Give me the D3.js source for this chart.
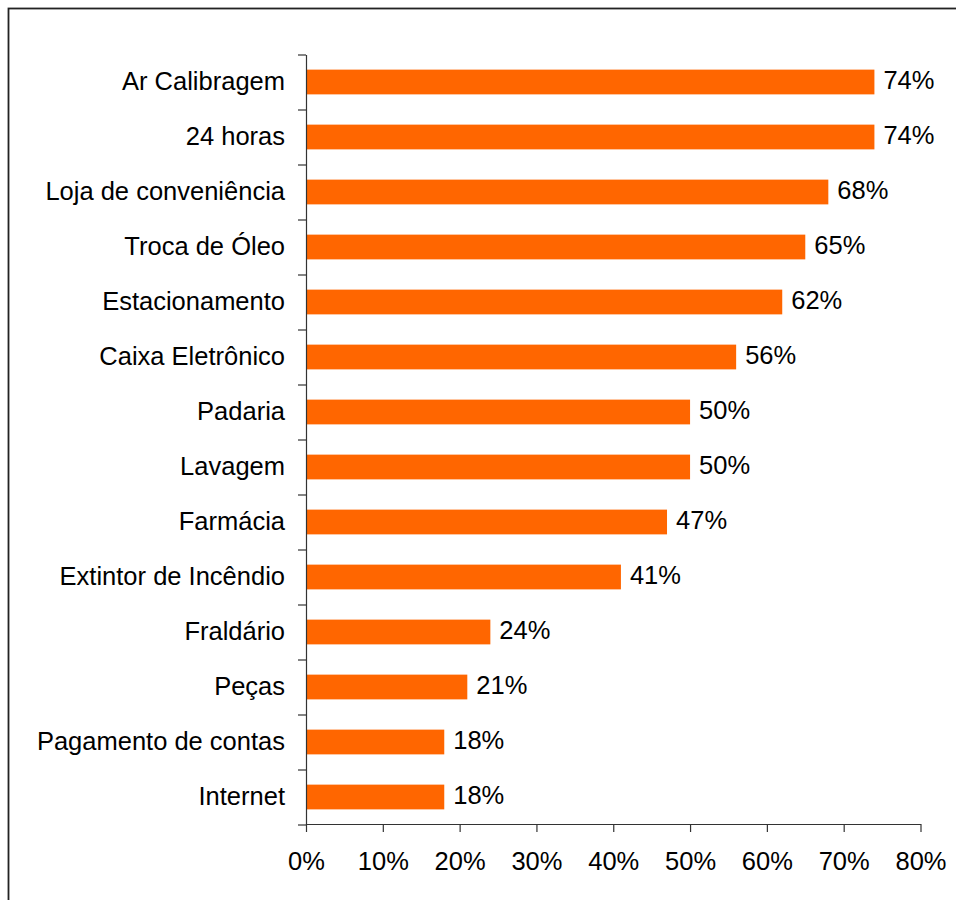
<!DOCTYPE html>
<html>
<head>
<meta charset="utf-8">
<script src="https://cdn.jsdelivr.net/npm/d3@7"></script>
<style>
  html, body { margin: 0; padding: 0; background: #fff; }
  svg { display: block; }
  text { font-family: "Liberation Sans", Arial, sans-serif; fill: #000; }
</style>
</head>
<body>
<svg id="chart" width="956" height="900"></svg>
<script>
// Services offered at the station, share of respondents (%)
const categories = [
  "Ar Calibragem", "24 horas", "Loja de conveniência", "Troca de Óleo",
  "Estacionamento", "Caixa Eletrônico", "Padaria", "Lavagem", "Farmácia",
  "Extintor de Incêndio", "Fraldário", "Peças", "Pagamento de contas", "Internet"
];
const values = [74, 74, 68, 65, 62, 56, 50, 50, 47, 41, 24, 21, 18, 18];
const xTicks = [0, 10, 20, 30, 40, 50, 60, 70, 80];

const svg = d3.select("#chart");
const fontSize = 25.5;

// outer frame (runs off the right and bottom edges)
svg.append("rect")
  .attr("x", 8.5).attr("y", 8.5)
  .attr("width", 1000).attr("height", 1000)
  .attr("fill", "none")
  .attr("stroke", "#222")
  .attr("stroke-width", 1.8);

const plot = { left: 306, right: 920.5, top: 54.5, bottom: 824.5 };

const x = d3.scaleLinear().domain([0, 80]).range([plot.left, plot.right]);
const y = d3.scaleBand()
  .domain(categories)
  .range([plot.top, plot.bottom])
  .paddingInner(0.55)
  .paddingOuter(0.275);

// bars
svg.append("g").selectAll("rect")
  .data(categories)
  .join("rect")
  .attr("x", x(0))
  .attr("y", d => y(d))
  .attr("width", (d, i) => x(values[i]) - x(0))
  .attr("height", y.bandwidth())
  .attr("fill", "#ff6600");

// value labels
svg.append("g").selectAll("text")
  .data(categories)
  .join("text")
  .attr("x", (d, i) => x(values[i]) + 9)
  .attr("y", d => y(d) + y.bandwidth() / 2 + 7)
  .attr("font-size", fontSize)
  .text((d, i) => values[i] + "%");

// category labels
svg.append("g").selectAll("text")
  .data(categories)
  .join("text")
  .attr("x", plot.left - 21)
  .attr("y", d => y(d) + y.bandwidth() / 2 + 8)
  .attr("text-anchor", "end")
  .attr("font-size", fontSize)
  .text(d => d);

// vertical axis with ticks between categories
const yEdges = d3.scaleLinear().domain([0, categories.length]).range([plot.top, plot.bottom]);
const yAxis = svg.append("g")
  .attr("transform", `translate(${plot.left},0)`)
  .call(d3.axisLeft(yEdges).tickValues(d3.range(categories.length + 1)).tickSize(8).tickSizeOuter(0).tickFormat(""));
yAxis.selectAll("path, line").attr("stroke", "#333").attr("stroke-width", 1.2);

// horizontal axis
const xAxis = svg.append("g")
  .attr("transform", `translate(0,${plot.bottom - 0.5})`)
  .call(d3.axisBottom(x).tickValues(xTicks).tickSize(8).tickSizeOuter(0).tickPadding(20).tickFormat(d => d + "%"));
xAxis.selectAll("path, line").attr("stroke", "#333").attr("stroke-width", 1.2);
xAxis.selectAll("text")
  .attr("font-size", fontSize)
  .attr("font-family", "'Liberation Sans', Arial, sans-serif")
  .attr("fill", "#000");
</script>
</body>
</html>
